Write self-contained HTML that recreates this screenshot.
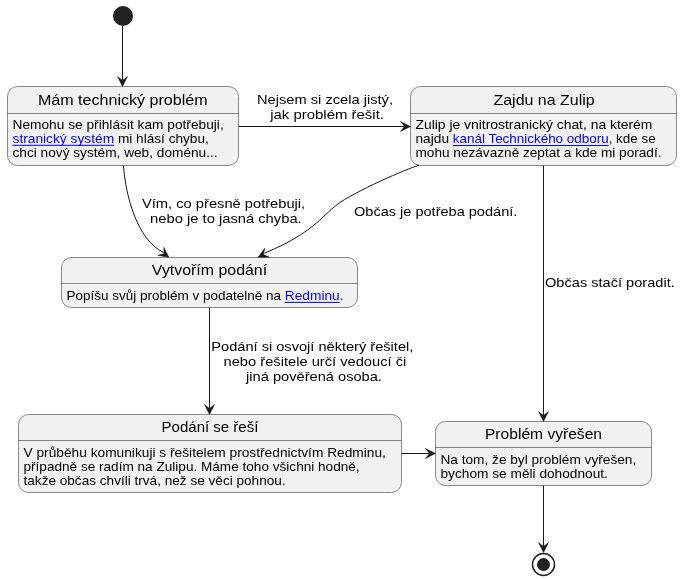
<!DOCTYPE html>
<html><head><meta charset="utf-8"><style>
html,body{margin:0;padding:0;background:#FFFFFF;width:682px;height:580px;overflow:hidden}
svg{display:block;will-change:transform}
text{font-family:"Liberation Sans", sans-serif}
</style></head><body>
<svg width="682" height="580" viewBox="0 0 682 580">
<ellipse cx="123" cy="16" rx="10" ry="10" fill="#222222"/>
<ellipse cx="543.5" cy="564.5" rx="11" ry="11" fill="none" stroke="#222222" stroke-width="1.5"/>
<ellipse cx="543.5" cy="564.5" rx="6.5" ry="6.5" fill="#222222"/>
<rect x="7.5" y="86.5" width="231" height="79" rx="10" ry="10" fill="#F1F1F1" stroke="#181818" stroke-width="0.5"/>
<line x1="7.5" y1="113.5" x2="238.5" y2="113.5" stroke="#181818" stroke-width="0.5"/>
<text x="37.92" y="105.10" font-size="14.8" fill="#000000" textLength="169.66" lengthAdjust="spacingAndGlyphs">Mám technický problém</text>
<text x="12.50" y="128.70" font-size="12.7" fill="#000000" textLength="211.22" lengthAdjust="spacingAndGlyphs">Nemohu se přihlásit kam potřebuji,</text>
<text x="12.50" y="142.70" font-size="12.7" fill="#0000FF" textLength="101.62" lengthAdjust="spacingAndGlyphs">stranický systém</text>
<rect x="12.50" y="144.80" width="101.62" height="1" fill="#0000FF"/>
<text x="117.94" y="142.70" font-size="12.7" fill="#000000" textLength="90.88" lengthAdjust="spacingAndGlyphs">mi hlásí chybu,</text>
<text x="12.50" y="156.70" font-size="12.7" fill="#000000" textLength="205.09" lengthAdjust="spacingAndGlyphs">chci nový systém, web, doménu...</text>
<rect x="410.5" y="86.5" width="266" height="79" rx="10" ry="10" fill="#F1F1F1" stroke="#181818" stroke-width="0.5"/>
<line x1="410.5" y1="113.5" x2="676.5" y2="113.5" stroke="#181818" stroke-width="0.5"/>
<text x="493.44" y="105.10" font-size="14.8" fill="#000000" textLength="101.33" lengthAdjust="spacingAndGlyphs">Zajdu na Zulip</text>
<text x="415.50" y="128.90" font-size="12.7" fill="#000000" textLength="236.92" lengthAdjust="spacingAndGlyphs">Zulip je vnitrostranický chat, na kterém</text>
<text x="415.50" y="142.90" font-size="12.7" fill="#000000" textLength="33.53" lengthAdjust="spacingAndGlyphs">najdu</text>
<text x="452.84" y="142.90" font-size="12.7" fill="#0000FF" textLength="155.81" lengthAdjust="spacingAndGlyphs">kanál Technického odboru</text>
<rect x="452.84" y="145.00" width="155.81" height="1" fill="#0000FF"/>
<text x="608.66" y="142.90" font-size="12.7" fill="#000000" textLength="47.05" lengthAdjust="spacingAndGlyphs">, kde se</text>
<text x="415.50" y="156.90" font-size="12.7" fill="#000000" textLength="246.00" lengthAdjust="spacingAndGlyphs">mohu nezávazně zeptat a kde mi poradí.</text>
<rect x="61.5" y="257.5" width="296" height="50" rx="10" ry="10" fill="#F1F1F1" stroke="#181818" stroke-width="0.5"/>
<line x1="61.5" y1="283.5" x2="357.5" y2="283.5" stroke="#181818" stroke-width="0.5"/>
<text x="151.88" y="275.20" font-size="14.8" fill="#000000" textLength="115.23" lengthAdjust="spacingAndGlyphs">Vytvořím podání</text>
<text x="66.50" y="299.80" font-size="12.7" fill="#000000" textLength="214.45" lengthAdjust="spacingAndGlyphs">Popíšu svůj problém v podatelně na</text>
<text x="284.77" y="299.80" font-size="12.7" fill="#0000FF" textLength="54.96" lengthAdjust="spacingAndGlyphs">Redminu</text>
<rect x="284.77" y="301.90" width="54.96" height="1" fill="#0000FF"/>
<text x="339.73" y="299.80" font-size="12.7" fill="#000000" textLength="3.81" lengthAdjust="spacingAndGlyphs">.</text>
<rect x="18.5" y="414.5" width="383" height="78" rx="10" ry="10" fill="#F1F1F1" stroke="#181818" stroke-width="0.5"/>
<line x1="18.5" y1="440.5" x2="401.5" y2="440.5" stroke="#181818" stroke-width="0.5"/>
<text x="161.61" y="432.00" font-size="14.8" fill="#000000" textLength="96.78" lengthAdjust="spacingAndGlyphs">Podání se řeší</text>
<text x="23.50" y="456.80" font-size="12.7" fill="#000000" textLength="362.44" lengthAdjust="spacingAndGlyphs">V průběhu komunikuji s řešitelem prostřednictvím Redminu,</text>
<text x="23.50" y="470.80" font-size="12.7" fill="#000000" textLength="336.09" lengthAdjust="spacingAndGlyphs">případně se radím na Zulipu. Máme toho všichni hodně,</text>
<text x="23.50" y="484.80" font-size="12.7" fill="#000000" textLength="262.09" lengthAdjust="spacingAndGlyphs">takže občas chvíli trvá, než se věci pohnou.</text>
<rect x="435.5" y="421.5" width="216" height="64" rx="10" ry="10" fill="#F1F1F1" stroke="#181818" stroke-width="0.5"/>
<line x1="435.5" y1="447.5" x2="651.5" y2="447.5" stroke="#181818" stroke-width="0.5"/>
<text x="484.97" y="439.10" font-size="14.8" fill="#000000" textLength="117.06" lengthAdjust="spacingAndGlyphs">Problém vyřešen</text>
<text x="440.50" y="463.60" font-size="12.7" fill="#000000" textLength="195.72" lengthAdjust="spacingAndGlyphs">Na tom, že byl problém vyřešen,</text>
<text x="440.50" y="477.60" font-size="12.7" fill="#000000" textLength="167.41" lengthAdjust="spacingAndGlyphs">bychom se měli dohodnout.</text>
<line x1="122.5" y1="26" x2="122.5" y2="80.5" stroke="#181818" stroke-width="1"/>
<polygon points="117.5,76.5 122.5,86.5 127.5,76.5 122.5,80.5" fill="#181818" stroke="#181818" stroke-width="0.5"/>
<line x1="238.5" y1="126.5" x2="404.5" y2="126.5" stroke="#181818" stroke-width="1"/>
<polygon points="400.5,121.5 410.5,126.5 400.5,131.5 404.5,126.5" fill="#181818" stroke="#181818" stroke-width="0.5"/>
<path d="M123.4,165.5 C125.87,197.04 137.25,239.54 163.53,252.53" fill="none" stroke="#181818" stroke-width="1"/>
<polygon transform="translate(168.8,257.3) rotate(37)" points="-10,-5 0,0 -10,5 -6,0" fill="#181818" stroke="#181818" stroke-width="0.5"/>
<path d="M419,165.2 C407.71,168.35 353.52,191.96 337.19,204.49 C320.86,217.02 313.33,232.68 264.5,253.2" fill="none" stroke="#181818" stroke-width="1"/>
<polygon transform="translate(258.1,257.3) rotate(153)" points="-10,-5 0,0 -10,5 -6,0" fill="#181818" stroke="#181818" stroke-width="0.5"/>
<line x1="543.5" y1="165.5" x2="543.5" y2="415.5" stroke="#181818" stroke-width="1"/>
<polygon points="538.5,411.5 543.5,421.5 548.5,411.5 543.5,415.5" fill="#181818" stroke="#181818" stroke-width="0.5"/>
<line x1="209.5" y1="307.5" x2="209.5" y2="408.5" stroke="#181818" stroke-width="1"/>
<polygon points="204.5,404.5 209.5,414.5 214.5,404.5 209.5,408.5" fill="#181818" stroke="#181818" stroke-width="0.5"/>
<line x1="401.5" y1="453.5" x2="429.5" y2="453.5" stroke="#181818" stroke-width="1"/>
<polygon points="425.5,448.5 435.5,453.5 425.5,458.5 429.5,453.5" fill="#181818" stroke="#181818" stroke-width="0.5"/>
<line x1="543.5" y1="485.5" x2="543.5" y2="546.5" stroke="#181818" stroke-width="1"/>
<polygon points="538.5,542.5 543.5,552.5 548.5,542.5 543.5,546.5" fill="#181818" stroke="#181818" stroke-width="0.5"/>
<text x="257.03" y="103.70" font-size="13.4" fill="#000000" textLength="135.94" lengthAdjust="spacingAndGlyphs">Nejsem si zcela jistý,</text>
<text x="270.20" y="118.75" font-size="13.4" fill="#000000" textLength="113.80" lengthAdjust="spacingAndGlyphs">jak problém řešit.</text>
<text x="141.97" y="207.80" font-size="13.4" fill="#000000" textLength="163.25" lengthAdjust="spacingAndGlyphs">Vím, co přesně potřebuji,</text>
<text x="150.13" y="222.90" font-size="13.4" fill="#000000" textLength="151.55" lengthAdjust="spacingAndGlyphs">nebo je to jasná chyba.</text>
<text x="354.00" y="216.40" font-size="13.4" fill="#000000" textLength="163.31" lengthAdjust="spacingAndGlyphs">Občas je potřeba podání.</text>
<text x="545.00" y="287.30" font-size="13.4" fill="#000000" textLength="129.78" lengthAdjust="spacingAndGlyphs">Občas stačí poradit.</text>
<text x="211.34" y="350.60" font-size="13.4" fill="#000000" textLength="202.00" lengthAdjust="spacingAndGlyphs">Podání si osvojí některý řešitel,</text>
<text x="223.53" y="365.70" font-size="13.4" fill="#000000" textLength="182.75" lengthAdjust="spacingAndGlyphs">nebo řešitele určí vedoucí či</text>
<text x="246.08" y="380.80" font-size="13.4" fill="#000000" textLength="135.84" lengthAdjust="spacingAndGlyphs">jiná pověřená osoba.</text>
</svg>
</body></html>
